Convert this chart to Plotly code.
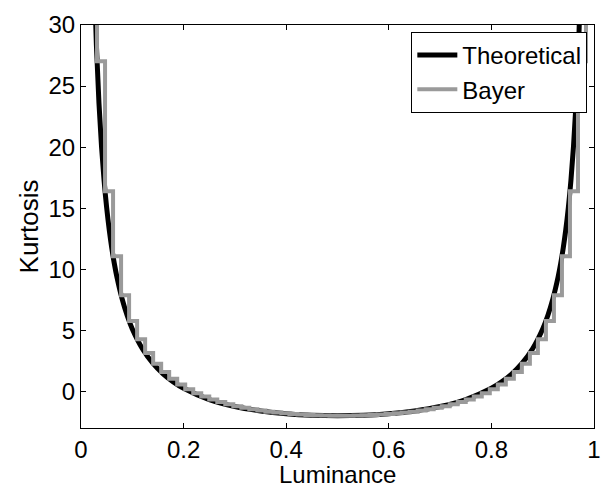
import plotly.graph_objects as go

# Theoretical kurtosis curve
theo_x = [0.025, 0.03, 0.035, 0.04, 0.045, 0.05, 0.055, 0.06, 0.065, 0.07, 0.08, 0.09, 0.10,
          0.12, 0.14, 0.16, 0.18, 0.20, 0.25, 0.30, 0.35, 0.40, 0.45, 0.50,
          0.55, 0.60, 0.65, 0.70, 0.75, 0.80, 0.82, 0.84, 0.86, 0.88, 0.90,
          0.91, 0.92, 0.93, 0.935, 0.94, 0.945, 0.95, 0.955, 0.96, 0.965, 0.97, 0.975]
theo_y = [35.03, 28.36, 23.61, 20.04, 17.27, 15.05, 13.24, 11.73, 10.45, 9.36, 7.59, 6.21, 5.11,
          3.47, 2.31, 1.44, 0.78, 0.25, -0.67, -1.24, -1.60, -1.83, -1.96, -2.00,
          -1.96, -1.83, -1.60, -1.24, -0.67, 0.25, 0.78, 1.44, 2.31, 3.47, 5.11,
          6.21, 7.59, 9.36, 10.45, 11.73, 13.24, 15.05, 17.27, 20.04, 23.61, 28.36, 35.03]

# Bayer (64-level) staircase: level index and kurtosis values
bayer_level = list(range(1, 65))
bayer_y = [59.02, 27.03, 16.38, 11.07, 7.88, 5.77, 4.27, 3.14, 2.27, 1.59, 1.03, 0.56, 0.18,
           -0.15, -0.43, -0.67, -0.87, -1.05, -1.21, -1.35, -1.46, -1.57, -1.66, -1.73,
           -1.80, -1.85, -1.90, -1.94, -1.96, -1.98, -2.00, -2.00,
           -2.00, -1.98, -1.96, -1.94, -1.90, -1.85, -1.80, -1.73, -1.66, -1.57, -1.46,
           -1.35, -1.21, -1.05, -0.87, -0.67, -0.43, -0.15, 0.18, 0.56, 1.03, 1.59, 2.27,
           3.14, 4.27, 5.77, 7.88, 11.07, 16.38, 27.03, 59.02, 59.02]
bayer_x = [k / 64 for k in bayer_level]

x_ticks = [0, 0.2, 0.4, 0.6, 0.8, 1]
x_tick_text = ["0", "0.2", "0.4", "0.6", "0.8", "1"]
y_ticks = [0, 5, 10, 15, 20, 25, 30]

FONT = "Liberation Sans, Arial, sans-serif"
TICK_FS = 24
TITLE_FS = 24

fig = go.Figure()
fig.add_trace(go.Scatter(x=theo_x, y=theo_y, mode="lines", name="Theoretical",
                         line=dict(color="black", width=5, shape="spline")))
fig.add_trace(go.Scatter(x=bayer_x, y=bayer_y, mode="lines", name="Bayer",
                         line=dict(color="#9a9a9a", width=4, shape="hv")))

axis_common = dict(showline=True, linecolor="black", linewidth=1, mirror="ticks",
                   ticks="inside", ticklen=5, tickcolor="black", showgrid=False,
                   zeroline=False, ticklabeloverflow="allow",
                   tickfont=dict(family=FONT, size=TICK_FS, color="black"))

fig.update_xaxes(range=[0, 1], tickvals=x_ticks, ticktext=x_tick_text, **axis_common)
fig.update_yaxes(range=[-3, 30], tickvals=y_ticks,
                 title=dict(text="Kurtosis", font=dict(family=FONT, size=26, color="black"),
                            standoff=2),
                 **axis_common)

fig.add_annotation(text="Luminance", xref="paper", yref="paper", x=0.5, y=-0.1156,
                   xanchor="center", yanchor="middle", showarrow=False,
                   font=dict(family=FONT, size=TITLE_FS, color="black"))

fig.update_layout(
    width=605, height=488,
    margin=dict(l=81, r=4, t=25, b=60),
    plot_bgcolor="white", paper_bgcolor="white",
    font=dict(family=FONT, color="black"),
    showlegend=True,
    legend=dict(x=0.987, y=0.983, xanchor="right", yanchor="top",
                bgcolor="white", bordercolor="black", borderwidth=1,
                font=dict(family=FONT, size=24, color="black"),
                tracegroupgap=0, itemwidth=40),
)

fig.write_html("out.html")
